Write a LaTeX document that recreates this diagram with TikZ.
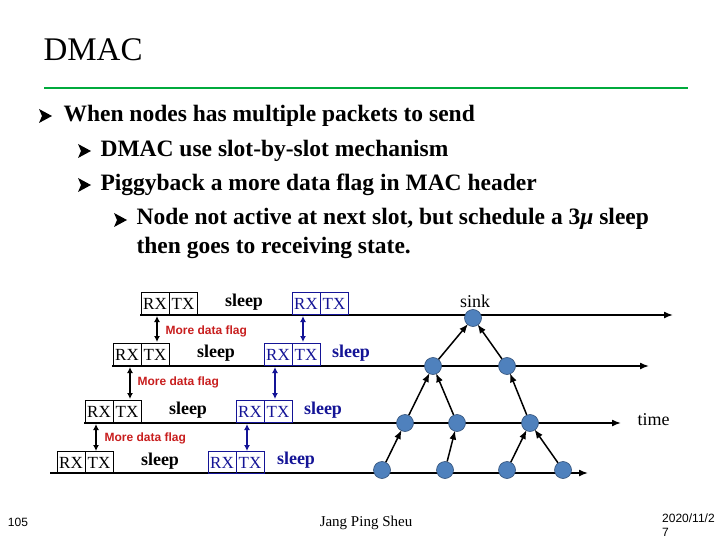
\documentclass[tikz,border=0pt]{standalone}
\usepackage{fontspec}
\setmainfont{Liberation Serif}
\newfontfamily\sansf{Liberation Sans}
\usetikzlibrary{arrows.meta}
\definecolor{nodeblue}{RGB}{79,129,189}
\definecolor{nodeedge}{RGB}{50,80,120}
\definecolor{txtblue}{RGB}{20,20,150}
\definecolor{flagred}{RGB}{200,30,30}
\definecolor{linegreen}{RGB}{0,170,60}
\begin{document}
\begin{tikzpicture}[x=1pt,y=-1pt,
  tl/.style={line width=1.5pt,-{Latex[length=9pt,width=7pt]}},
  dot/.style={circle,fill=nodeblue,draw=nodeedge,line width=0.6pt,minimum size=17pt,inner sep=0},
  edge/.style={line width=1.5pt,-{Latex[length=9pt,width=7pt]},shorten >=-1pt},
  cell/.style={draw,line width=0.8pt,minimum width=28pt,minimum height=22pt,inner sep=0,font=\fontsize{17}{17}\selectfont},
  bcell/.style={cell,draw=txtblue,text=txtblue},
  slp/.style={font=\bfseries\fontsize{18}{18}\selectfont},
  flag/.style={text=flagred,font=\sansf\bfseries\fontsize{12}{12}\selectfont,anchor=west},
  dbl/.style={line width=1.8pt,{Latex[length=6pt,width=6pt]}-{Latex[length=6pt,width=6pt]}},
  bdbl/.style={line width=1.4pt,draw=txtblue,{Latex[length=6pt,width=6pt]}-{Latex[length=6pt,width=6pt]}},
  bul/.style={font=\bfseries\fontsize{23.5}{29}\selectfont,anchor=west,align=left}]
\useasboundingbox (0,0) rectangle (720,540);
\node[anchor=west,font=\fontsize{33}{33}\selectfont] (title) at (40,50) {DMAC};
\draw[linegreen,line width=2.5pt] (44,88) -- (688,88);
\newcommand\barrow[2]{\fill (#1-6,#2-7) -- (#1+7,#2) -- (#1-6,#2+7) -- (#1-3,#2) -- cycle;}
\barrow{45}{116}\barrow{84}{151}\barrow{84}{185}\barrow{120}{220}
\node[bul] (b1) at (60,116) {When nodes has multiple packets to send};
\node[bul] (b2) at (97,151) {DMAC use slot-by-slot mechanism};
\node[bul] (b3) at (97,185) {Piggyback a more data flag in MAC header};
\node[bul,anchor=north west] (b4) at (133,205) {Node not active at next slot, but schedule a 3\textit{μ} sleep\\then goes to receiving state.};
% timelines
\coordinate (l1a) at (140,315); \coordinate (l1b) at (673,315);
\coordinate (l2a) at (112,366); \coordinate (l2b) at (649,366);
\coordinate (l3a) at (84,423);  \coordinate (l3b) at (621,423);
\coordinate (l4a) at (50,473);  \coordinate (l4b) at (588,473);
\draw[tl] (l1a) -- (l1b); \draw[tl] (l2a) -- (l2b);
\draw[tl] (l3a) -- (l3b); \draw[tl] (l4a) -- (l4b);
% boxes
\node[cell] (r1) at (155,303.5) {RX}; \node[cell] (t1) at (183,303.5) {TX};
\node[bcell] (br1) at (306,303.5) {RX}; \node[bcell] (bt1) at (334,303.5) {TX};
\node[cell] (r2) at (127,354.5) {RX}; \node[cell] (t2) at (155,354.5) {TX};
\node[bcell] (br2) at (278,354.5) {RX}; \node[bcell] (bt2) at (306,354.5) {TX};
\node[cell] (r3) at (99,411.5) {RX}; \node[cell] (t3) at (127,411.5) {TX};
\node[bcell] (br3) at (250,411.5) {RX}; \node[bcell] (bt3) at (278,411.5) {TX};
\node[cell] (r4) at (71,462.5) {RX}; \node[cell] (t4) at (99,462.5) {TX};
\node[bcell] (br4) at (222,462.5) {RX}; \node[bcell] (bt4) at (250,462.5) {TX};
\node[slp] (s1) at (244,302) {sleep};
\node[slp] (s2) at (216,353) {sleep};
\node[slp] (s3) at (188,410) {sleep};
\node[slp] (s4) at (160,461) {sleep};
\node[slp,text=txtblue] (bs2) at (351,353) {sleep};
\node[slp,text=txtblue] (bs3) at (323,410) {sleep};
\node[slp,text=txtblue] (bs4) at (296,460) {sleep};
% arrows between rows
\draw[dbl] (157,316) -- (157,342);
\draw[dbl] (130,367) -- (130,399);
\draw[dbl] (96,424) -- (96,451);
\draw[bdbl] (303,316) -- (303,342);
\draw[bdbl] (275,367) -- (275,399);
\draw[bdbl] (247,424) -- (247,451);
\node[flag] (f1) at (162,331) {More data flag};
\node[flag] (f2) at (134,382) {More data flag};
\node[flag] (f3) at (101,438) {More data flag};
% tree
\node[dot] (n0) at (473,318) {};
\node[font=\fontsize{18}{18}\selectfont] (sink) at (475,301) {sink};
\node[dot] (n21) at (433,366) {}; \node[dot] (n22) at (507,366) {};
\node[dot] (n31) at (405,423) {}; \node[dot] (n32) at (457,423) {}; \node[dot] (n33) at (530,423) {};
\node[dot] (n41) at (382,470) {}; \node[dot] (n42) at (445,470) {}; \node[dot] (n43) at (507,470) {}; \node[dot] (n44) at (563,470) {};
\draw[edge] (n41) -- (n31); \draw[edge] (n42) -- (n32);
\draw[edge] (n43) -- (n33); \draw[edge] (n44) -- (n33);
\draw[edge] (n31) -- (n21); \draw[edge] (n32) -- (n21); \draw[edge] (n33) -- (n22);
\draw[edge] (n21) -- (n0); \draw[edge] (n22) -- (n0);
\node[anchor=west,font=\fontsize{18}{18}\selectfont] (time) at (634,420) {time};
% footer
\node[font=\sansf\fontsize{12}{12}\selectfont] (pg) at (18,522) {105};
\node[font=\fontsize{15}{15}\selectfont] (auth) at (366,523) {Jang Ping Sheu};
\node[anchor=north west,align=left,font=\sansf\fontsize{12}{14}\selectfont,inner sep=0] (date) at (662,514) {2020/11/2\\7};
\end{tikzpicture}
\end{document}
